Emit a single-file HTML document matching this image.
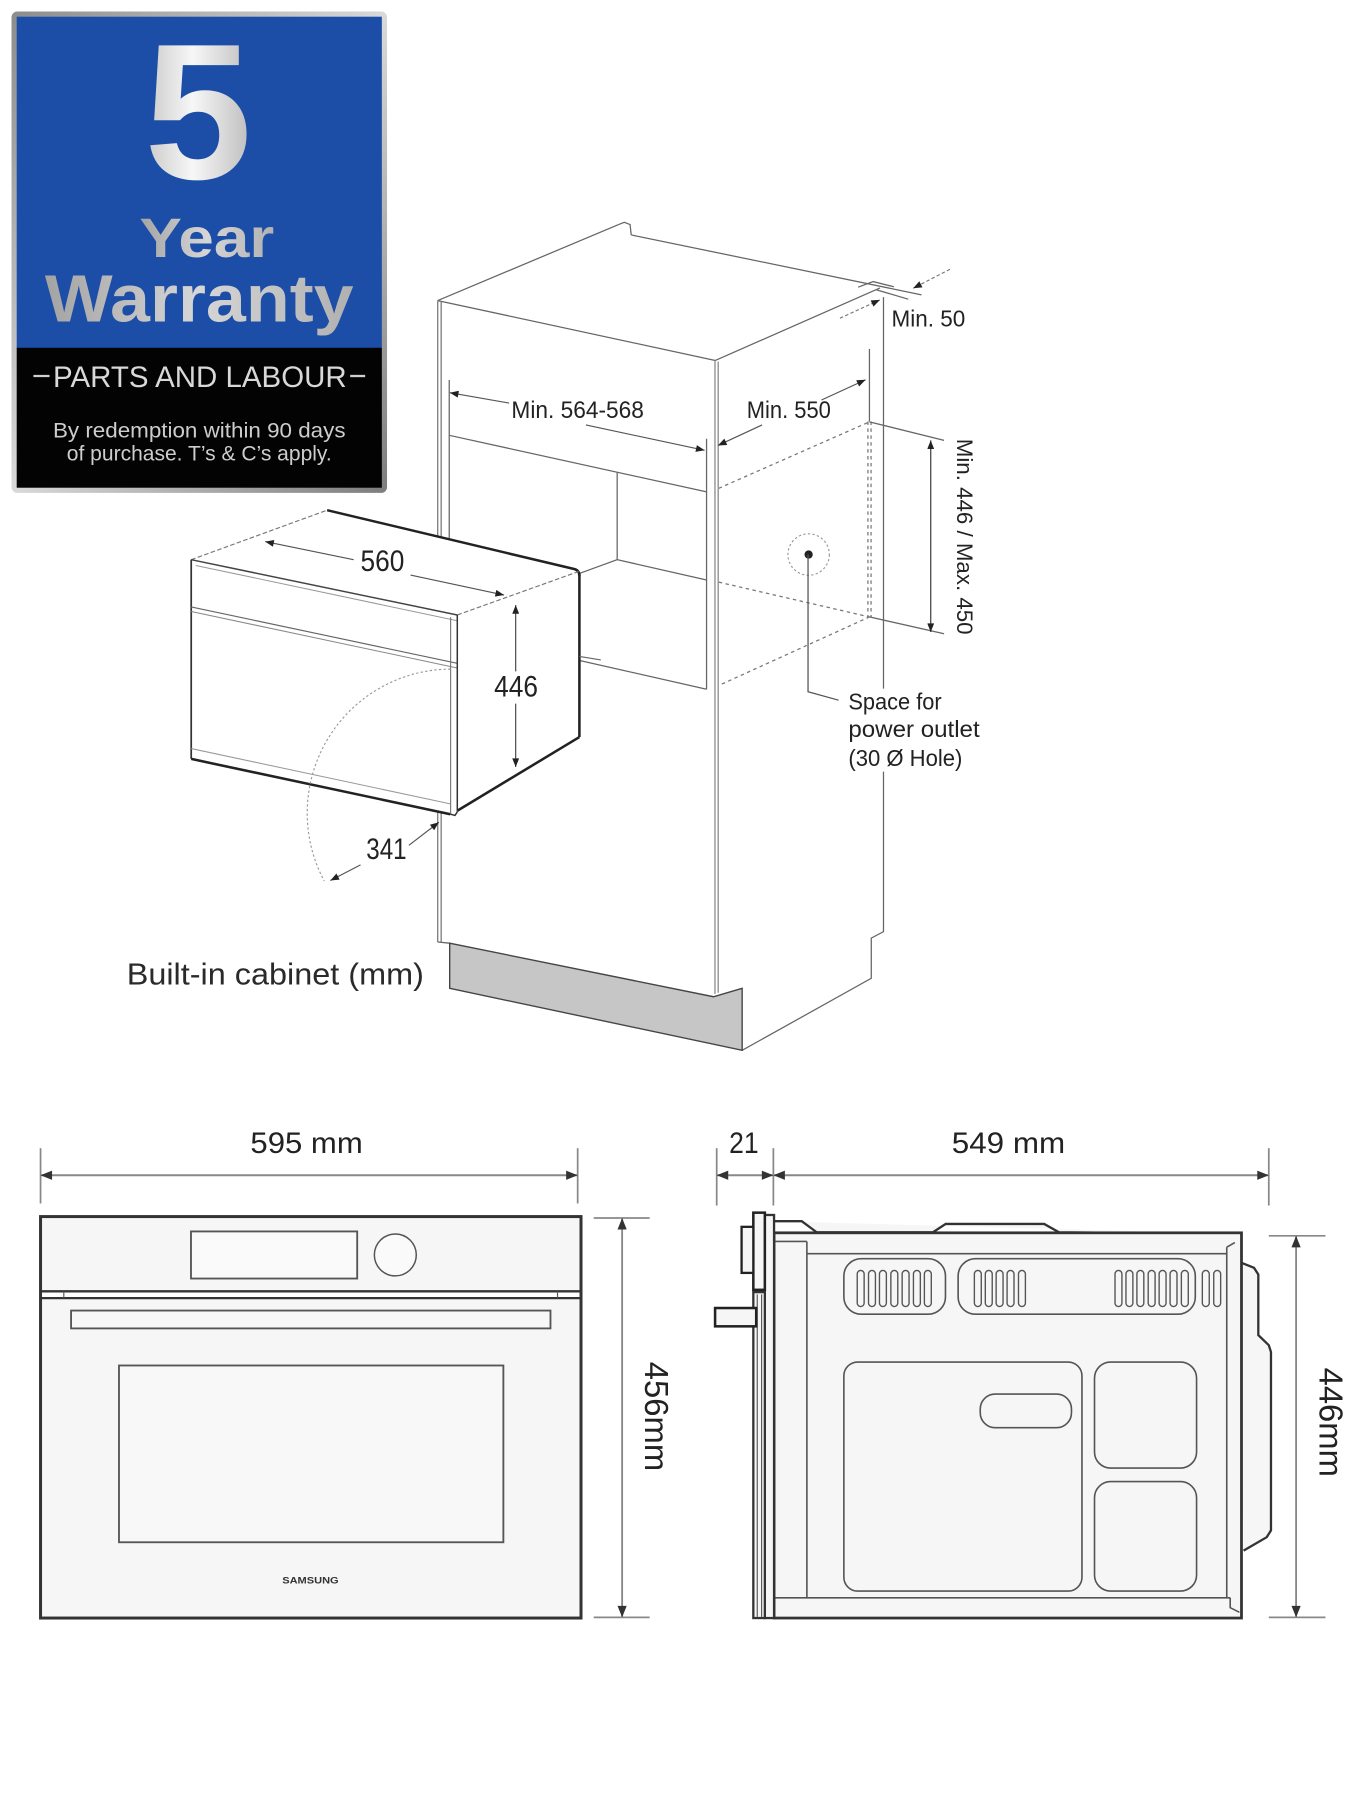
<!DOCTYPE html>
<html>
<head>
<meta charset="utf-8">
<style>
html,body{margin:0;padding:0;background:#fff;}
body{width:1350px;height:1800px;overflow:hidden;}
svg{display:block;}
text{font-family:"Liberation Sans",sans-serif;}
</style>
</head>
<body>
<svg width="1350" height="1800" viewBox="0 0 1172 1563" preserveAspectRatio="none" xmlns="http://www.w3.org/2000/svg">
<defs>
  <marker id="a" viewBox="0 0 10 8" refX="10" refY="4" markerWidth="9" markerHeight="6" markerUnits="userSpaceOnUse" orient="auto-start-reverse">
    <path d="M0 0 L10 4 L0 8 z" fill="#222"/>
  </marker>
  <marker id="b" viewBox="0 0 10 8" refX="10" refY="4" markerWidth="11" markerHeight="8" markerUnits="userSpaceOnUse" orient="auto-start-reverse">
    <path d="M0 0 L10 4 L0 8 z" fill="#333"/>
  </marker>
  <linearGradient id="silver" x1="0" y1="0" x2="1" y2="1">
    <stop offset="0" stop-color="#8c8c8c"/>
    <stop offset="0.5" stop-color="#d9d9d9"/>
    <stop offset="1" stop-color="#7d7d7d"/>
  </linearGradient>
  <linearGradient id="five" x1="0" y1="0" x2="1" y2="0">
    <stop offset="0" stop-color="#c9c9c9"/>
    <stop offset="0.45" stop-color="#f7f7f7"/>
    <stop offset="1" stop-color="#bdbdbd"/>
  </linearGradient>
  <linearGradient id="war" x1="0" y1="0" x2="1" y2="0">
    <stop offset="0" stop-color="#a3a3a3"/>
    <stop offset="0.5" stop-color="#d6d6d6"/>
    <stop offset="1" stop-color="#b0b0b0"/>
  </linearGradient>
</defs>

<!-- ===== Warranty badge ===== -->
<rect x="10" y="10" width="326" height="418" rx="5" fill="url(#silver)"/>
<rect x="14.5" y="14.5" width="317" height="288" fill="#1c4ea7"/>
<rect x="14.5" y="302" width="317" height="121.5" fill="#030303"/>
<text x="172" y="155" font-size="168" font-weight="bold" text-anchor="middle" fill="url(#five)">5</text>
<text x="121" y="223" font-size="48" font-weight="bold" fill="url(#war)" textLength="117" lengthAdjust="spacingAndGlyphs">Year</text>
<text x="39" y="279" font-size="58" font-weight="bold" fill="url(#war)" textLength="268" lengthAdjust="spacingAndGlyphs">Warranty</text>
<line x1="29" y1="326.5" x2="43" y2="326.5" stroke="#cfcfcf" stroke-width="2"/>
<line x1="304" y1="326.5" x2="317" y2="326.5" stroke="#cfcfcf" stroke-width="2"/>
<text x="46" y="336" font-size="26" fill="#d8d8d8" textLength="255" lengthAdjust="spacingAndGlyphs">PARTS AND LABOUR</text>
<text x="46" y="380" font-size="18.5" fill="#cdcdcd" textLength="254" lengthAdjust="spacingAndGlyphs">By redemption within 90 days</text>
<text x="58" y="400" font-size="18.5" fill="#cdcdcd" textLength="230" lengthAdjust="spacingAndGlyphs">of purchase. T’s &amp; C’s apply.</text>

<!-- ===== Cabinet ===== -->
<g fill="none" stroke="#666" stroke-width="1.1">
  <line x1="380" y1="261" x2="537" y2="195"/>
  <path d="M537 195 L542 193 L547 195 L548 204"/>
  <line x1="548" y1="204" x2="800" y2="256"/>
  <line x1="380" y1="261" x2="621" y2="313"/>
  <line x1="621" y1="313" x2="764" y2="250"/>
  <path d="M745 249.4 L758 244.5 L776 249"/>
  <line x1="761" y1="251.7" x2="788.5" y2="259.8"/>
  <line x1="380" y1="261" x2="380" y2="818" stroke="#777"/>
  <line x1="383" y1="262" x2="383" y2="818" stroke="#777"/>
  <line x1="390" y1="330" x2="390" y2="480"/>
  <line x1="390" y1="378" x2="613" y2="427"/>
  <line x1="613.4" y1="381" x2="613.4" y2="598.5"/>
  <line x1="620.7" y1="313" x2="620.7" y2="863" stroke="#888"/>
  <line x1="623.5" y1="314" x2="623.5" y2="862" stroke="#888"/>
  <line x1="535.8" y1="410" x2="535.8" y2="486"/>
  <path d="M503.6 497.7 L535.8 486 L613.4 503.6"/>
  <line x1="503.6" y1="573.6" x2="613.4" y2="598.5"/>
  <g stroke-dasharray="3 3" stroke="#777">
    <line x1="624" y1="424" x2="754.8" y2="366.3"/>
    <line x1="624" y1="505.5" x2="754.8" y2="535.7"/>
    <line x1="626.7" y1="594" x2="754.8" y2="535.7"/>
    <line x1="753.5" y1="366" x2="753.5" y2="536"/>
    <line x1="756.2" y1="366" x2="756.2" y2="536"/>
  </g>
  <line x1="754.8" y1="303" x2="754.8" y2="366"/>
  <line x1="754.8" y1="366.3" x2="819.6" y2="382.4"/>
  <line x1="754.8" y1="535.7" x2="819.6" y2="550.3"/>
  <!-- right back edge (interrupted by label) -->
  <line x1="767" y1="258" x2="767" y2="598"/>
  <path d="M767 670 L767 809 L756.4 814.6 L756.4 849.5 L644.3 912"/>
  <line x1="380" y1="818" x2="390.4" y2="819"/>
</g>
<polygon points="390.4,819 619.4,865.5 644.3,858.2 644.3,912 390.4,858.2" fill="#c6c6c6" stroke="#444" stroke-width="1.2"/>

<!-- Min. 50 -->
<line x1="824.7" y1="233.8" x2="792.8" y2="250.3" stroke="#777" stroke-width="1" stroke-dasharray="3 2" marker-end="url(#a)"/>
<line x1="729.2" y1="276.3" x2="763.9" y2="260.4" stroke="#777" stroke-width="1" stroke-dasharray="3 2" marker-end="url(#a)"/>
<text x="774" y="283.6" font-size="20" fill="#222" textLength="64" lengthAdjust="spacingAndGlyphs">Min. 50</text>

<!-- Min. 564-568 -->
<line x1="442" y1="350" x2="390.5" y2="341" stroke="#555" stroke-width="1" marker-end="url(#a)"/>
<line x1="508.6" y1="369" x2="611.7" y2="391" stroke="#555" stroke-width="1" marker-end="url(#a)"/>
<text x="444" y="363" font-size="21" fill="#222" textLength="115" lengthAdjust="spacingAndGlyphs">Min. 564-568</text>

<!-- Min. 550 -->
<line x1="661.6" y1="369" x2="623.3" y2="386.8" stroke="#555" stroke-width="1" marker-end="url(#a)"/>
<line x1="713.2" y1="347.3" x2="751.4" y2="329.8" stroke="#555" stroke-width="1" marker-end="url(#a)"/>
<text x="648.3" y="363" font-size="21" fill="#222" textLength="73" lengthAdjust="spacingAndGlyphs">Min. 550</text>

<!-- Min. 446 / Max. 450 -->
<line x1="808" y1="382.4" x2="808" y2="548.8" stroke="#444" stroke-width="1.1" marker-start="url(#a)" marker-end="url(#a)"/>
<text transform="translate(831,466) rotate(90)" x="0" y="0" font-size="19" fill="#222" text-anchor="middle" textLength="170" lengthAdjust="spacingAndGlyphs">Min. 446 / Max. 450</text>

<!-- power outlet -->
<circle cx="702" cy="481.5" r="18" fill="none" stroke="#999" stroke-width="1" stroke-dasharray="2 2"/>
<circle cx="702" cy="481.5" r="3.6" fill="#222"/>
<path d="M701.5 481.5 L701.5 600.7 L728 608" fill="none" stroke="#555" stroke-width="1.1"/>
<text x="736.5" y="616" font-size="20" fill="#222" textLength="81" lengthAdjust="spacingAndGlyphs">Space for</text>
<text x="736.5" y="640" font-size="20" fill="#222" textLength="114" lengthAdjust="spacingAndGlyphs">power outlet</text>
<text x="736.5" y="665" font-size="20" fill="#222" textLength="99" lengthAdjust="spacingAndGlyphs">(30 Ø Hole)</text>

<!-- ===== Oven (perspective) ===== -->
<polygon points="166,486 284,443 503,495 503,640 397,706 391,707 166,659" fill="#fff"/>
<g fill="none">
  <line x1="166" y1="486" x2="284" y2="443" stroke="#777" stroke-width="1" stroke-dasharray="4 2"/>
  <path d="M284 443 L498 494 Q503 495 503 500" stroke="#222" stroke-width="2.2"/>
  <line x1="503" y1="498" x2="503" y2="640" stroke="#222" stroke-width="2.2"/>
  <line x1="397" y1="704" x2="503" y2="640" stroke="#222" stroke-width="2.2"/>
  <line x1="397" y1="534" x2="503" y2="496" stroke="#777" stroke-width="1" stroke-dasharray="4 2"/>
  <line x1="166" y1="486" x2="397" y2="534" stroke="#444" stroke-width="1.3"/>
  <line x1="170" y1="491" x2="397" y2="539" stroke="#999" stroke-width="0.9"/>
  <line x1="166" y1="486" x2="166" y2="659" stroke="#333" stroke-width="1.5"/>
  <line x1="166" y1="527" x2="397" y2="576" stroke="#666" stroke-width="1"/>
  <line x1="166" y1="531" x2="397" y2="580" stroke="#888" stroke-width="0.9"/>
  <line x1="166" y1="650" x2="391" y2="698" stroke="#999" stroke-width="0.9"/>
  <line x1="166" y1="659" x2="391" y2="707" stroke="#222" stroke-width="2.2"/>
  <line x1="391.2" y1="536" x2="391.2" y2="707" stroke="#777" stroke-width="1"/>
  <line x1="397" y1="534" x2="397" y2="705" stroke="#333" stroke-width="1.3"/>
  <path d="M391 707 L395 708 L397 705" stroke="#333" stroke-width="1.3"/>
  <line x1="503" y1="570" x2="521.6" y2="573" stroke="#666" stroke-width="1"/>
</g>
<path d="M391 581 A125 125 0 0 0 281.5 765" fill="none" stroke="#999" stroke-width="1" stroke-dasharray="2 2"/>
<line x1="307" y1="486" x2="230.2" y2="470.3" stroke="#555" stroke-width="1" marker-end="url(#a)"/>
<line x1="356.4" y1="499.3" x2="437.6" y2="516.7" stroke="#555" stroke-width="1" marker-end="url(#a)"/>
<text x="313" y="496" font-size="26" fill="#222" textLength="38" lengthAdjust="spacingAndGlyphs">560</text>
<line x1="447.7" y1="583" x2="447.7" y2="525.4" stroke="#444" stroke-width="1" marker-end="url(#a)"/>
<line x1="447.7" y1="611" x2="447.7" y2="666" stroke="#444" stroke-width="1" marker-end="url(#a)"/>
<text x="429" y="605" font-size="26" fill="#222" textLength="38" lengthAdjust="spacingAndGlyphs">446</text>
<line x1="313" y1="751" x2="286.8" y2="764.6" stroke="#555" stroke-width="1" marker-end="url(#a)"/>
<line x1="355" y1="734" x2="381" y2="714" stroke="#555" stroke-width="1" marker-end="url(#a)"/>
<text x="318" y="746" font-size="26" fill="#222" textLength="35" lengthAdjust="spacingAndGlyphs">341</text>

<text x="110" y="855" font-size="26.5" fill="#2a2a2a" textLength="258" lengthAdjust="spacingAndGlyphs">Built-in cabinet (mm)</text>

<!-- ===== Front view ===== -->
<text x="217.4" y="1001.4" font-size="26" fill="#222" textLength="97.5" lengthAdjust="spacingAndGlyphs">595 mm</text>
<line x1="35.2" y1="997" x2="35.2" y2="1045" stroke="#888" stroke-width="1.5"/>
<line x1="501.5" y1="997" x2="501.5" y2="1045" stroke="#888" stroke-width="1.5"/>
<line x1="35.2" y1="1020.5" x2="501.5" y2="1020.5" stroke="#888" stroke-width="1.8" marker-start="url(#b)" marker-end="url(#b)"/>

<rect x="35.2" y="1056.4" width="469.2" height="348.6" fill="#f6f6f6" stroke="#333" stroke-width="2.6"/>
<rect x="36.5" y="1121.3" width="466.6" height="5.9" fill="#fff"/>
<line x1="35.2" y1="1121.3" x2="504.4" y2="1121.3" stroke="#333" stroke-width="2"/>
<line x1="35.2" y1="1127.2" x2="504.4" y2="1127.2" stroke="#333" stroke-width="2"/>
<line x1="55.4" y1="1121.3" x2="55.4" y2="1127.2" stroke="#555" stroke-width="1"/>
<line x1="484" y1="1121.3" x2="484" y2="1127.2" stroke="#555" stroke-width="1"/>
<rect x="165.8" y="1069.3" width="144.3" height="40.9" fill="#fafafa" stroke="#555" stroke-width="1.6"/>
<circle cx="343.2" cy="1089.7" r="18.2" fill="#fafafa" stroke="#555" stroke-width="1.3"/>
<rect x="61.7" y="1138" width="416.2" height="15.5" fill="#f8f8f8" stroke="#555" stroke-width="1.6"/>
<rect x="103.3" y="1185.7" width="333.7" height="153.5" fill="#f8f8f8" stroke="#555" stroke-width="1.6"/>
<text x="245" y="1375" font-size="8" font-weight="bold" fill="#333" textLength="49" lengthAdjust="spacingAndGlyphs">SAMSUNG</text>

<line x1="515.4" y1="1057.6" x2="564" y2="1057.6" stroke="#888" stroke-width="1.5"/>
<line x1="515.4" y1="1404.4" x2="564" y2="1404.4" stroke="#888" stroke-width="1.5"/>
<line x1="540.1" y1="1057.6" x2="540.1" y2="1404.4" stroke="#888" stroke-width="1.6" marker-start="url(#b)" marker-end="url(#b)"/>
<text transform="translate(560,1230) rotate(90)" x="0" y="0" font-size="29" fill="#222" text-anchor="middle" textLength="95" lengthAdjust="spacingAndGlyphs">456mm</text>

<!-- ===== Side view ===== -->
<text x="633" y="1001.4" font-size="26" fill="#222" textLength="25.6" lengthAdjust="spacingAndGlyphs">21</text>
<text x="826.3" y="1001.4" font-size="26" fill="#222" textLength="98.4" lengthAdjust="spacingAndGlyphs">549 mm</text>
<line x1="622.2" y1="997" x2="622.2" y2="1046.8" stroke="#888" stroke-width="1.5"/>
<line x1="671.4" y1="997" x2="671.4" y2="1046.8" stroke="#888" stroke-width="1.5"/>
<line x1="1101.5" y1="997" x2="1101.5" y2="1046.8" stroke="#888" stroke-width="1.5"/>
<line x1="622.2" y1="1020.5" x2="671.4" y2="1020.5" stroke="#888" stroke-width="1.8" marker-start="url(#b)" marker-end="url(#b)"/>
<line x1="671.4" y1="1020.5" x2="1101.5" y2="1020.5" stroke="#888" stroke-width="1.8" marker-start="url(#b)" marker-end="url(#b)"/>

<path d="M1077.8 1096.5 L1088.7 1100.9 L1092.4 1106.7 L1092.4 1159.3 L1101.5 1168.1 L1103.4 1174 L1103.4 1328.9 L1099.7 1334.8 L1079.6 1346.5" fill="#f6f6f6" stroke="#333" stroke-width="2"/>
<path d="M672 1060.4 L696 1060.4 L709 1070 L810 1070 L821 1062.8 L906.5 1062.8 L919.3 1070 L1077.8 1071.6" fill="#f6f6f6" stroke="#333" stroke-width="2"/>
<rect x="672" y="1070.5" width="405.8" height="334.5" fill="#f6f6f6" stroke="#333" stroke-width="2.4"/>
<g fill="none" stroke="#555" stroke-width="1.4">
  <line x1="672" y1="1078" x2="700.5" y2="1078"/>
  <line x1="700.5" y1="1078" x2="700.5" y2="1387.4"/>
  <line x1="700.5" y1="1088.6" x2="1065" y2="1088.6"/>
  <line x1="1065" y1="1083" x2="1065" y2="1387.4"/>
  <line x1="1065" y1="1083" x2="1072" y2="1079"/>
  <line x1="673" y1="1387.4" x2="1068" y2="1387.4"/>
  <path d="M1068 1387.4 L1068 1396 L1076 1400"/>
</g>
<rect x="664" y="1055" width="8" height="350" fill="#f6f6f6" stroke="#333" stroke-width="2"/>
<rect x="654" y="1122" width="10" height="283" fill="#f6f6f6" stroke="#333" stroke-width="2"/>
<line x1="657.4" y1="1124" x2="657.4" y2="1404" stroke="#555" stroke-width="1"/>
<line x1="661.2" y1="1124" x2="661.2" y2="1404" stroke="#555" stroke-width="1"/>
<rect x="654" y="1053" width="10" height="67" fill="#f6f6f6" stroke="#222" stroke-width="2.2"/>
<rect x="643.8" y="1065.3" width="10.2" height="40" fill="#f6f6f6" stroke="#222" stroke-width="2"/>
<rect x="620.8" y="1135.8" width="35.7" height="15.9" fill="#f6f6f6" stroke="#222" stroke-width="2.2"/>

<g fill="none" stroke="#555" stroke-width="1.4">
  <rect x="732.6" y="1093" width="88.2" height="48.2" rx="15"/>
  <rect x="831.8" y="1093" width="205.9" height="48.2" rx="15"/>
  <rect x="732.6" y="1182.7" width="206.7" height="198.9" rx="12"/>
  <rect x="851" y="1210.5" width="79.2" height="29.2" rx="13"/>
  <rect x="950.2" y="1182.7" width="88.6" height="92.1" rx="14"/>
  <rect x="950.2" y="1286.5" width="88.6" height="95.1" rx="14"/>
</g>
<g fill="none" stroke="#555" stroke-width="1.2">
  <rect x="744.2" y="1103.2" width="6" height="31.3" rx="3"/>
  <rect x="754" y="1103.2" width="6" height="31.3" rx="3"/>
  <rect x="763.5" y="1103.2" width="6" height="31.3" rx="3"/>
  <rect x="773.4" y="1103.2" width="6" height="31.3" rx="3"/>
  <rect x="783.2" y="1103.2" width="6" height="31.3" rx="3"/>
  <rect x="793" y="1103.2" width="6" height="31.3" rx="3"/>
  <rect x="802.5" y="1103.2" width="6" height="31.3" rx="3"/>
  <rect x="845.9" y="1103.2" width="6" height="31.3" rx="3"/>
  <rect x="855.4" y="1103.2" width="6" height="31.3" rx="3"/>
  <rect x="864.8" y="1103.2" width="6" height="31.3" rx="3"/>
  <rect x="874.3" y="1103.2" width="6" height="31.3" rx="3"/>
  <rect x="884.2" y="1103.2" width="6" height="31.3" rx="3"/>
  <rect x="968" y="1103.2" width="6" height="31.3" rx="3"/>
  <rect x="977.5" y="1103.2" width="6" height="31.3" rx="3"/>
  <rect x="987" y="1103.2" width="6" height="31.3" rx="3"/>
  <rect x="996.8" y="1103.2" width="6" height="31.3" rx="3"/>
  <rect x="1006.3" y="1103.2" width="6" height="31.3" rx="3"/>
  <rect x="1015.8" y="1103.2" width="6" height="31.3" rx="3"/>
  <rect x="1025.6" y="1103.2" width="6" height="31.3" rx="3"/>
  <rect x="1043.8" y="1103.2" width="6" height="31.3" rx="3"/>
  <rect x="1053.7" y="1103.2" width="6" height="31.3" rx="3"/>
</g>

<line x1="1101.5" y1="1073.1" x2="1150.7" y2="1073.1" stroke="#888" stroke-width="1.5"/>
<line x1="1101.5" y1="1404.4" x2="1150.7" y2="1404.4" stroke="#888" stroke-width="1.5"/>
<line x1="1125.2" y1="1073.1" x2="1125.2" y2="1404.4" stroke="#888" stroke-width="1.6" marker-start="url(#b)" marker-end="url(#b)"/>
<text transform="translate(1145.5,1235) rotate(90)" x="0" y="0" font-size="29" fill="#222" text-anchor="middle" textLength="95" lengthAdjust="spacingAndGlyphs">446mm</text>
</svg>
</body>
</html>
